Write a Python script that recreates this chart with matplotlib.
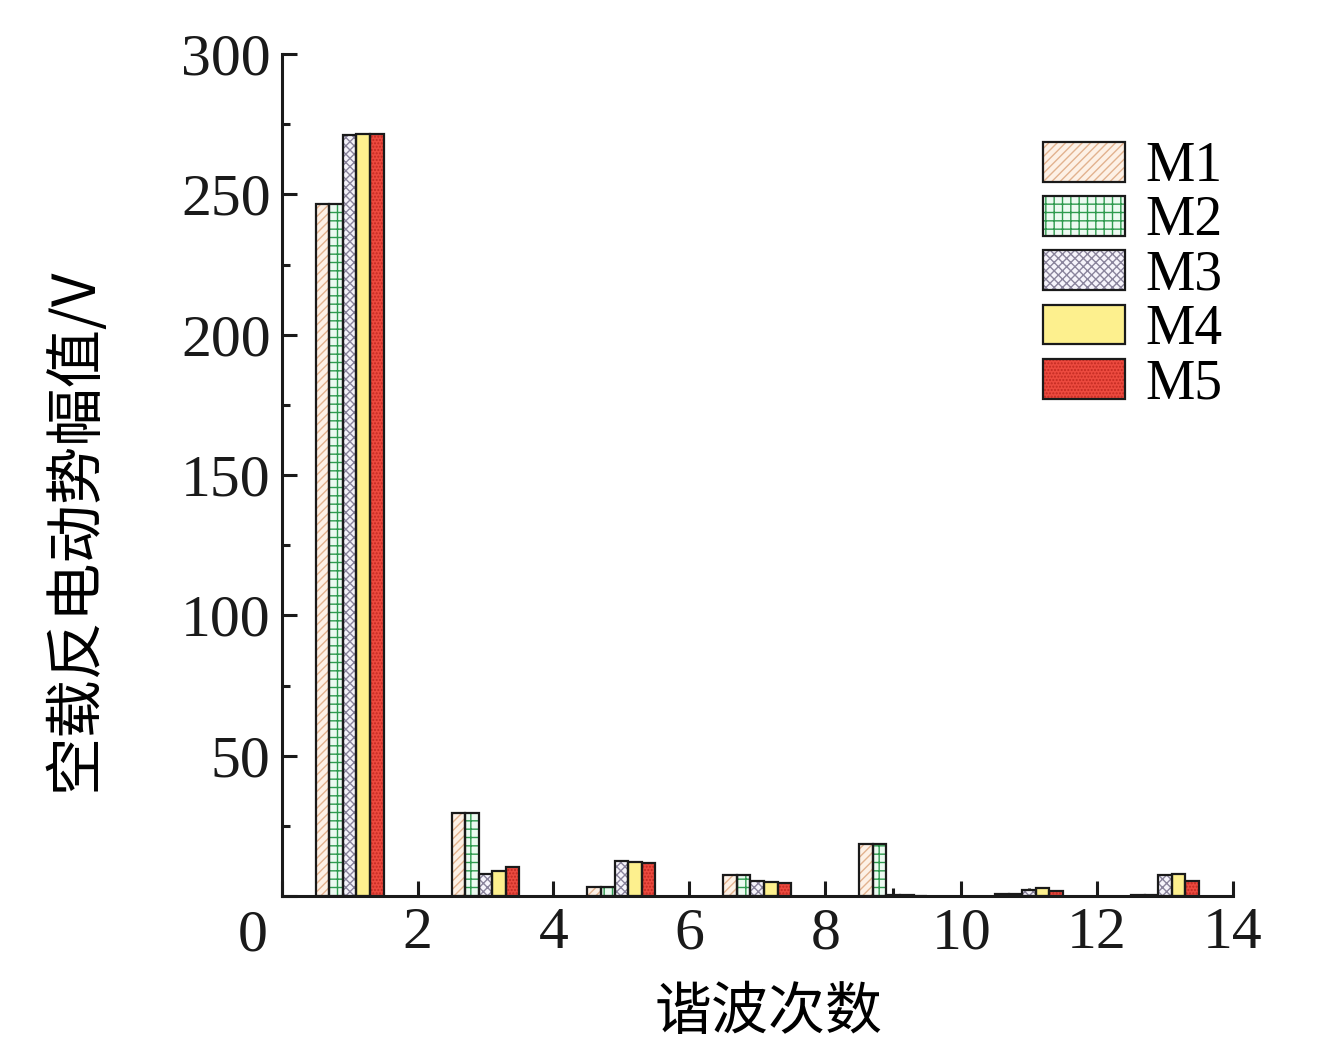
import matplotlib
matplotlib.use("Agg")
import matplotlib.pyplot as plt
from matplotlib.patches import Patch
from matplotlib.legend_handler import HandlerTuple
from matplotlib.ticker import MultipleLocator, FuncFormatter
import numpy as np

harmonics = [1, 3, 5, 7, 9, 11, 13]
series_names = ["M1", "M2", "M3", "M4", "M5"]
M1 = [246.5, 29.6, 3.2, 7.5, 18.4, 0.6, 0.4]
M2 = [246.5, 29.6, 3.2, 7.5, 18.4, 0.6, 0.4]
M3 = [271.2, 7.7, 12.4, 5.5, 0.4, 2.1, 7.4]
M4 = [271.4, 8.9, 12.0, 5.1, 0.3, 2.9, 8.0]
M5 = [271.6, 10.4, 11.8, 4.7, 0.1, 1.7, 5.4]
values = [M1, M2, M3, M4, M5]

faces = ["#fdf1e6", "#ecfaf1", "#f6f4fb", "#fdf08e", "#ec4a3f"]
hatch_cols = ["#e2b28e", "#2e9a4e", "#8a849c", "#fdf08e", "#c22a22"]
hatches = ["////", "++", "xxxx", None, "....."]

plt.rcParams['hatch.linewidth'] = 1.0
plt.rcParams['font.family'] = ['Liberation Serif', 'Noto Sans CJK SC']

fig = plt.figure(figsize=(13.28, 10.58), dpi=100)
ax = fig.add_axes([0.2121, 0.1531, 0.7163, 0.7958])

x = np.array(harmonics, dtype=float)
w = 0.2
handles = []
for i, (name, vals) in enumerate(zip(series_names, values)):
    pos = x + (i - 2) * w
    ax.bar(pos, vals, width=w, facecolor=faces[i], edgecolor=hatch_cols[i],
           hatch=hatches[i], linewidth=0, zorder=2)
    ax.bar(pos, vals, width=w, facecolor='none', edgecolor='#1a1a1a',
           linewidth=1.6, zorder=3)
    p1 = Patch(facecolor=faces[i], edgecolor=hatch_cols[i], hatch=hatches[i], linewidth=0)
    p2 = Patch(facecolor='none', edgecolor='#1a1a1a', linewidth=1.6)
    handles.append((p1, p2))

ax.set_xlim(0, 14)
ax.set_ylim(0, 300)
ax.xaxis.set_major_locator(MultipleLocator(2))
ax.xaxis.set_minor_locator(MultipleLocator(1))
ax.yaxis.set_major_locator(MultipleLocator(50))
ax.yaxis.set_minor_locator(MultipleLocator(25))
hide_zero = FuncFormatter(lambda v, p: "" if abs(v) < 1e-9 else f"{v:g}")
ax.xaxis.set_major_formatter(hide_zero)
ax.yaxis.set_major_formatter(hide_zero)
for s in ['top', 'right']:
    ax.spines[s].set_visible(False)
for s in ['left', 'bottom']:
    ax.spines[s].set_linewidth(2.2)
    ax.spines[s].set_color('#1a1a1a')
ax.tick_params(which='major', direction='in', length=11, width=2.2, labelsize=43,
               colors='#1a1a1a', pad=8)
ax.tick_params(which='minor', direction='in', length=6, width=2.2, colors='#1a1a1a')
ax.annotate("0", xy=(0, 0), xycoords='data', xytext=(-10, -9.5),
            textcoords='offset points', ha='right', va='top', fontsize=43,
            color='#1a1a1a')

ax.set_xlabel("谐波次数", fontsize=41, family=['Noto Sans CJK SC'])
ax.xaxis.set_label_coords(0.512, -0.104)
ax.set_ylabel("空载反电动势幅值/V", fontsize=42, family=['Noto Sans CJK SC', 'Liberation Serif'])
ax.yaxis.set_label_coords(-0.185, 0.435)

leg = ax.legend(handles, series_names, handler_map={tuple: HandlerTuple(ndivide=1)},
                loc='upper left', bbox_to_anchor=(0.7854, 0.8665),
                bbox_transform=fig.transFigure, frameon=False, fontsize=40,
                handlelength=1.475, handleheight=0.72, handletextpad=0.36,
                labelspacing=0.04, borderpad=0, borderaxespad=0)

fig.savefig("out.png", dpi=100)
